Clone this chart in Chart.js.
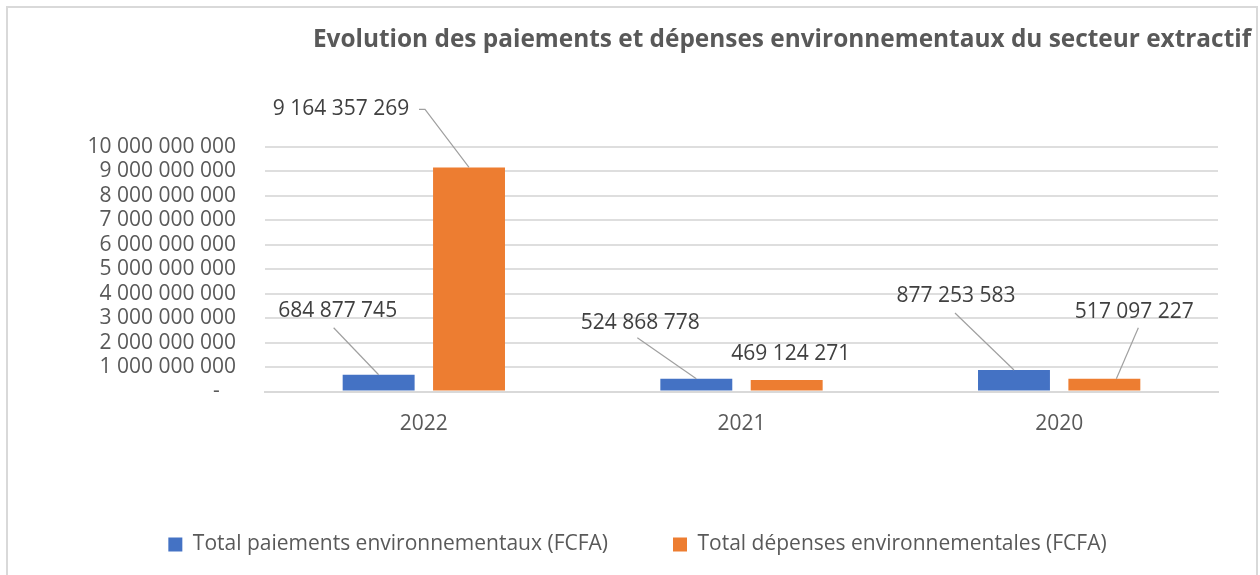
<!DOCTYPE html>
<html>
<head>
<meta charset="utf-8">
<script src="https://cdn.jsdelivr.net/npm/chart.js@4.4.1/dist/chart.umd.min.js"></script>
<style>
html,body{margin:0;padding:0;background:#fff}
#wrap{position:relative;width:1260px;height:575px}
</style>
</head>
<body>
<div id="wrap"><canvas id="chart" width="1260" height="575"></canvas></div>
<script>
// donnees
const years=["2022","2021","2020"];
const paiements=[684877745,524868778,877253583];
const depenses=[9164357269,469124271,517097227];
const seriesNames=["Total paiements environnementaux (FCFA)","Total dépenses environnementales (FCFA)"];
const chartTitle="Evolution des paiements et dépenses environnementaux du secteur extractif";
const yMax=10000000000, yStep=1000000000;

// placement des etiquettes (centre du texte par rapport au haut de la barre)
const labelOffsets=[[[-41,-64],[-56,-56],[-58,-74]],[[-128,-58],[4,-26],[30,-67]]];
// traits de rappel: [depart x/y par rapport au texte, decalage x sur la barre], null = pas de trait
const leaders=[[[-4,17,0],[-3,15,0],[-1,17,0]],[[78,0,0],null,[4,16,12]]];

const GRAY="#595959", FONT="'Open Sans', sans-serif";
const fmt=v=>String(Math.round(v)).replace(/\B(?=(\d{3})+(?!\d))/g," ");

const decor={
  id:"decor",
  beforeDraw(c){
    const ctx=c.ctx;ctx.save();
    ctx.strokeStyle="#d9d9d9";ctx.lineWidth=2;
    ctx.strokeRect(7,7,1250,600);
    ctx.fillStyle=GRAY;ctx.font="bold 24.4px "+FONT;
    ctx.textAlign="center";ctx.textBaseline="middle";
    ctx.fillText(chartTitle,782,40);
    ctx.restore();
  },
  afterDatasetsDraw(c){
    const ctx=c.ctx;ctx.save();
    ctx.font="21px "+FONT;ctx.fillStyle="#404040";
    ctx.textAlign="center";ctx.textBaseline="middle";
    ctx.strokeStyle="#a0a0a0";ctx.lineWidth=1.2;
    c.data.datasets.forEach((ds,di)=>{
      c.getDatasetMeta(di).data.forEach((el,i)=>{
        const [dx,dy]=labelOffsets[di][i];
        const lx=el.x+dx, ly=el.y+dy;
        const ld=leaders[di][i];
        if(ld){
          const sx=lx+ld[0], sy=ly+ld[1], ex=el.x+ld[2], ey=el.y;
          ctx.beginPath();ctx.moveTo(sx,sy);
          if(ld[1]===0){ctx.lineTo(sx+6,sy);}
          ctx.lineTo(ex,ey);ctx.stroke();
        }
        ctx.fillText(fmt(ds.data[i]),lx,ly);
      });
    });
    ctx.restore();
  }
};

new Chart(document.getElementById("chart"),{
  type:"bar",
  data:{labels:years,datasets:[
    {label:seriesNames[0],data:paiements,backgroundColor:"#4472c4",barPercentage:0.796,categoryPercentage:0.569},
    {label:seriesNames[1],data:depenses,backgroundColor:"#ed7d31",barPercentage:0.796,categoryPercentage:0.569}
  ]},
  options:{
    responsive:false,animation:false,
    layout:{padding:{left:57,right:42,top:147,bottom:10}},
    scales:{
      x:{
        grid:{display:false},
        border:{display:true,color:"#d9d9d9",width:2},
        ticks:{color:GRAY,font:{family:FONT,size:21},padding:12},
        afterFit:s=>{s.height=77.5;}
      },
      y:{
        min:0,max:yMax,
        grid:{color:"#dedede",lineWidth:2,drawTicks:false},
        border:{display:false},
        ticks:{stepSize:yStep,autoSkip:false,color:GRAY,padding:29,
          font:{family:FONT,size:21},
          callback:v=>v===0?"-   ":fmt(v)},
        afterFit:s=>{s.width=208;}
      }
    },
    plugins:{
      legend:{position:"bottom",
        labels:{boxWidth:14,boxHeight:14,padding:65,color:GRAY,font:{family:FONT,size:21}}},
      title:{display:false},
      tooltip:{enabled:false}
    }
  },
  plugins:[decor]
});
</script>
</body>
</html>
